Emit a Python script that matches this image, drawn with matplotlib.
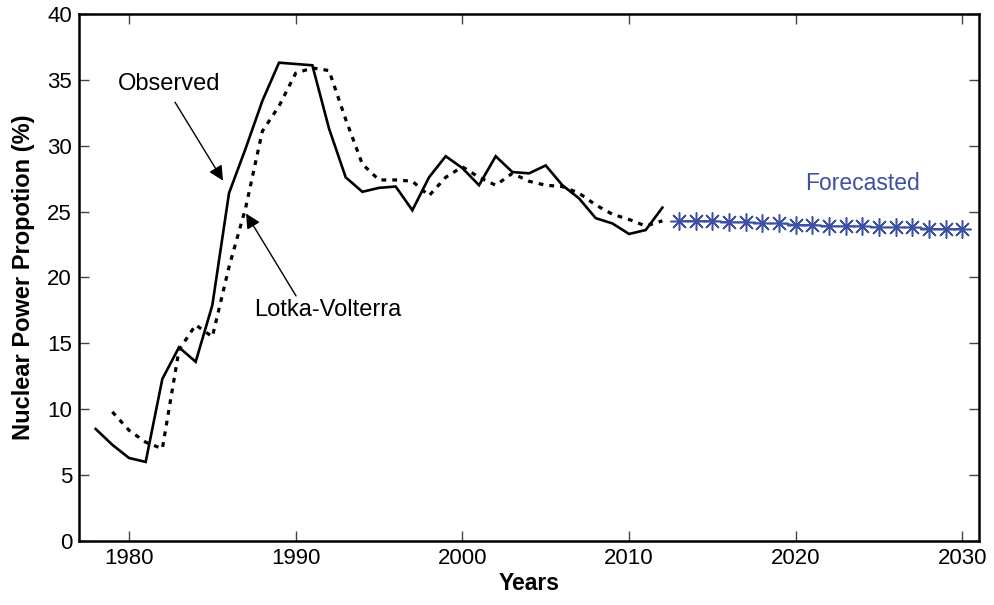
import matplotlib
matplotlib.use('Agg')
import matplotlib.pyplot as plt

plt.rcParams['font.family'] = ['Liberation Sans', 'DejaVu Sans']

# Observado 1978-2012
anos_obs = list(range(1978, 2013))
observado = [8.5, 7.3, 6.3, 6.0, 12.3, 14.7, 13.6, 17.9, 26.4, 29.8,
             33.4, 36.3, 36.2, 36.1, 31.3, 27.6, 26.5, 26.8, 26.9, 25.1,
             27.6, 29.2, 28.3, 27.0, 29.2, 28.0, 27.9, 28.5, 27.0, 26.0,
             24.5, 24.1, 23.3, 23.6, 25.3]

# Lotka-Volterra ajustado 1979-2012
anos_lv = list(range(1979, 2013))
lotka = [9.8, 8.4, 7.5, 7.0, 14.5, 16.4, 15.5, 20.8, 25.3, 31.1,
         33.0, 35.5, 35.9, 35.7, 32.0, 28.6, 27.4, 27.4, 27.3, 26.2,
         27.6, 28.4, 27.6, 27.0, 27.9, 27.3, 27.0, 26.9, 26.4, 25.5,
         24.8, 24.4, 23.9, 24.3]

# Previsao 2013-2030
anos_prev = list(range(2013, 2031))
previsao = [24.3, 24.3, 24.3, 24.2, 24.2, 24.1, 24.1, 24.0, 24.0, 23.9,
            23.9, 23.9, 23.8, 23.8, 23.8, 23.7, 23.7, 23.7]

azul = '#3c50a4'

fig = plt.figure(figsize=(9.95, 6.05), dpi=100)
ax = fig.add_axes([0.0794, 0.1058, 0.9046, 0.8712])

ax.plot(anos_obs, observado, color='black', linewidth=1.9, solid_joinstyle='miter')
# tracejado curtinho, tipo o ':' grosso do MATLAB
ax.plot(anos_lv, lotka, color='black', linewidth=2.3, linestyle=(0, (1.5, 1.9)),
        dash_capstyle='butt')
ax.plot(anos_prev, previsao, color=azul, linewidth=1.0,
        marker=(8, 2, 0), markersize=13, markeredgewidth=1.1)

ax.set_xlim(1977, 2031)
ax.set_ylim(0, 40)
ax.set_xticks([1980, 1990, 2000, 2010, 2020, 2030])
ax.set_yticks(range(0, 41, 5))

ax.tick_params(direction='in', length=7, width=1, color='#444444',
               labelsize=16, top=True, right=True, pad=5)
for lado in ax.spines.values():
    lado.set_linewidth(1.8)

ax.set_xlabel('Years', fontsize=16.5, fontweight='bold', labelpad=2)
ax.set_ylabel('Nuclear Power Propotion (%)', fontsize=17, fontweight='bold', labelpad=9)

# Setas e textos
seta = dict(arrowstyle='-|>', color='black', lw=1, mutation_scale=22, shrinkA=0, shrinkB=0)
ax.annotate('', xy=(1985.64, 27.35), xytext=(1982.76, 33.3), arrowprops=seta)
ax.annotate('', xy=(1987.02, 24.85), xytext=(1990.02, 18.6), arrowprops=seta)
ax.text(1982.4, 34.7, 'Observed', fontsize=17, ha='center', va='center')
ax.text(1991.95, 17.5, 'Lotka-Volterra', fontsize=17, ha='center', va='center')
ax.text(2024.0, 27.1, 'Forecasted', fontsize=16.5, ha='center', va='center', color=azul)

fig.savefig('out.png', dpi=100)
